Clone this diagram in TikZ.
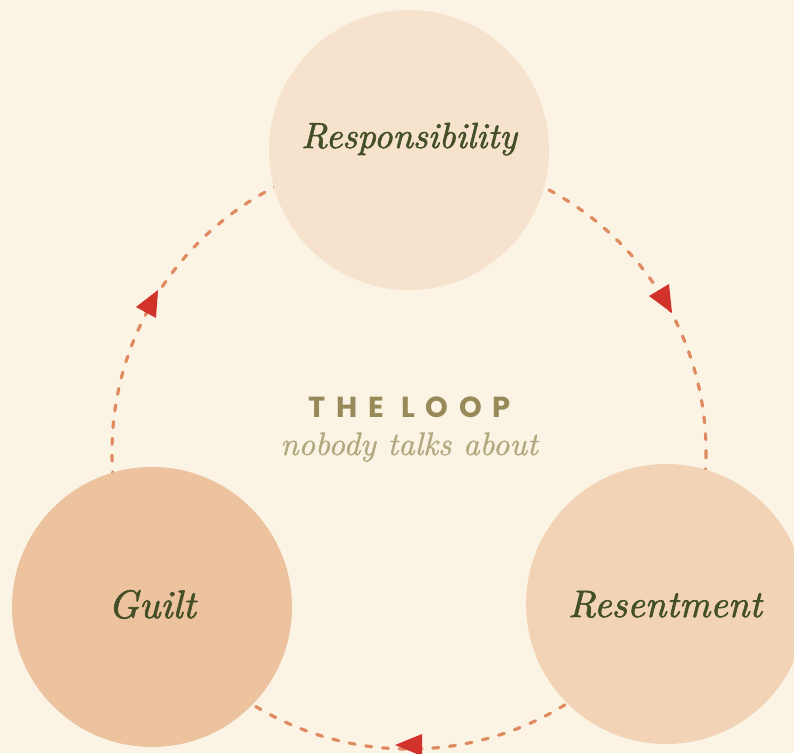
\documentclass[tikz,border=0pt]{standalone}
\usepackage{fontspec}
\newfontfamily\loopfont[LetterSpace=37]{Poppins}
\newfontfamily\wordfont[FakeBold=1.6]{lmroman10-italic.otf}
\newfontfamily\subfont[FakeBold=0.9]{lmroman10-italic.otf}
\definecolor{bg}{HTML}{FBF4E5}
\definecolor{respfill}{HTML}{F7E2CE}
\definecolor{guiltfill}{HTML}{EDC29E}
\definecolor{resentfill}{HTML}{F2D3B6}
\definecolor{dashcol}{HTML}{E08A5F}
\definecolor{arrowcol}{HTML}{D1332A}
\definecolor{textcol}{HTML}{434F26}
\definecolor{titlecol}{HTML}{978A58}
\definecolor{subcol}{HTML}{B0A87E}
\tikzset{
  blob/.style={circle, minimum size=280pt, inner sep=0pt, draw=none},
  word/.style={anchor=base, text=textcol, inner sep=0pt},
  loopline/.style={draw=dashcol, line width=3.2pt, line cap=round, dash pattern=on 6pt off 10.8pt},
  tip/.style={fill=arrowcol, draw=none},
}
\begin{document}
\begin{tikzpicture}[x=1pt,y=-1pt]
\fill[bg] (0,0) rectangle (794,753);
\useasboundingbox (0,0) rectangle (794,753);
\coordinate (loopc) at (409,452);
\draw[loopline] (loopc) circle[radius=297];
\node[blob, fill=respfill] (resp) at (409,150) {};
\node[blob, fill=guiltfill] (guilt) at (152,607) {};
\node[blob, fill=resentfill] (resent) at (666,604) {};
\node[word, font=\wordfont\fontsize{36.3}{40}\selectfont] (resptext) at ([yshift=2pt]resp.center) {Responsibility};
\node[word, font=\wordfont\fontsize{39.7}{44}\selectfont] (guilttext) at ([yshift=-11pt]guilt.center) {Guilt};
\node[word, font=\wordfont\fontsize{38.2}{44}\selectfont] (resenttext) at ([xshift=-1pt,yshift=-13pt]resent.center) {Resentment};
\node[anchor=base, inner sep=0pt, text=titlecol, font=\loopfont\bfseries\fontsize{29}{32}\selectfont] (title) at (410,417) {THE LOOP};
\node[anchor=base, inner sep=0pt, text=subcol, font=\subfont\fontsize{32.5}{36}\selectfont] (sub) at (409,455) {nobody talks about};
\fill[tip] (136,307) -- (158,290) -- (156,318) -- cycle;
\fill[tip] (649,296) -- (669,284) -- (672,313) -- cycle;
\fill[tip] (395,745) -- (422,734) -- (422,756) -- cycle;
\end{tikzpicture}
\end{document}
